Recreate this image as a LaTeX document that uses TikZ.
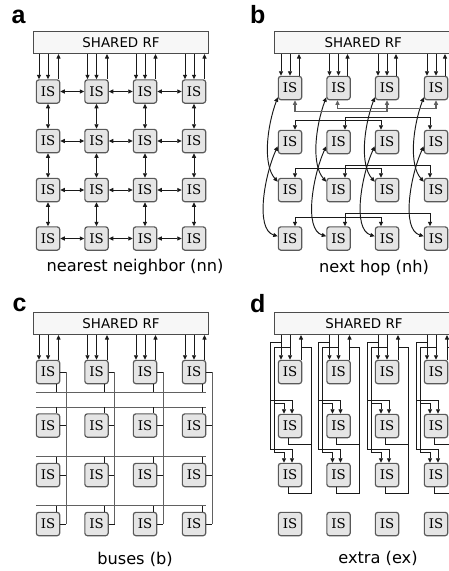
\documentclass[tikz,border=0pt]{standalone}
\usepackage{fontspec}
\setmainfont{DejaVu Sans}
\newfontfamily\isfont{DejaVu Serif}
\newfontfamily\labfont{Liberation Sans}
\usetikzlibrary{arrows.meta}
\tikzset{>={Triangle[length=4.5pt,width=4pt]}}
\tikzset{
  isbox/.style={draw=black!65,line width=1.2pt,fill=black!10,rounded corners=2.5pt,
    minimum size=23.3pt,inner sep=0pt,font=\isfont\fontsize{13.3}{14}\selectfont},
  rfbox/.style={draw=black!70,line width=1.1pt,fill=black!3,minimum height=22pt,
    inner sep=0pt,font=\fontsize{13.4}{14}\selectfont},
  wire/.style={black!90,line width=0.95pt},
  busline/.style={black!62,line width=1.3pt},
  panel/.style={anchor=base west,inner sep=0pt,font=\labfont\bfseries\fontsize{25}{25}\selectfont},
  captext/.style={anchor=base,inner sep=0pt,font=\fontsize{16.2}{18}\selectfont}
}

\begin{document}
\begin{tikzpicture}[x=1pt,y=-1pt]
\useasboundingbox (0,0) rectangle (449,571);
\clip (0,0) rectangle (449,571);

% (a) nearest neighbor
\node[panel] at (11.5,23.3) {a};
\node[rfbox,minimum width=175pt] (arf) at (121,42.5) {SHARED RF};
\foreach \r/\y in {1/91.5,2/141,3/190,4/238.5}
  \foreach \c/\x in {1/48,2/96.5,3/145,4/194}
    \node[isbox] (a\r\c) at (\x,\y) {IS};
\foreach \c in {1,...,4}{
  \draw[wire,->] ([xshift=-9pt]a1\c.north |- arf.south) -- ([xshift=-9pt]a1\c.north);
  \draw[wire,->] (a1\c.north |- arf.south) -- (a1\c.north);
  \draw[wire,<-] ([xshift=10.5pt]a1\c.north |- arf.south) -- ([xshift=10.5pt]a1\c.north);
  \foreach \r/\n in {1/2,2/3,3/4}{
    \draw[wire,<->] (a\r\c) -- (a\n\c);
    \draw[wire,<->] (a\c\r) -- (a\c\n);
  }
}
\node[captext] at (135,271.5) {nearest neighbor (nn)};

% (b) next hop
\node[panel] at (250,23.3) {b};
\node[rfbox,minimum width=178.4pt] (brf) at (363.25,42.5) {SHARED RF};
\foreach \r/\y in {1/88,2/142,3/190,4/238.5}
  \foreach \c/\x in {1/290,2/338.5,3/387,4/436}
    \node[isbox] (b\r\c) at (\x,\y) {IS};
\foreach \c in {1,...,4}{
  \draw[wire,->] ([xshift=-9pt]b1\c.north |- brf.south) -- ([xshift=-9pt]b1\c.north);
  \draw[wire,->] (b1\c.north |- brf.south) -- (b1\c.north);
  \draw[wire,<-] ([xshift=9pt]b1\c.north |- brf.south) -- ([xshift=9pt]b1\c.north);
  % two rows down, same column
  \draw[wire,<->] ([yshift=3pt]b1\c.south west) .. controls +(-11,30) and +(-15,-17) .. ([yshift=-4pt]b3\c.north west);
  \draw[wire,<->] ([yshift=8pt]b2\c.south west) .. controls +(-13,28) and +(-23,-7) .. ([yshift=-10pt]b4\c.north west);
}
\draw[busline,<->] ([xshift=5pt]b11.south) -- ++(0,11) -| (b13.south);
\draw[busline,<->] ([xshift=-1pt]b12.south) -- ++(0,8) -| (b14.south);
\foreach \r in {2,3,4}{
  \draw[wire,<->] ([xshift=5pt]b\r1.north) -- ++(0,-9) -| ([xshift=-6pt]b\r3.north);
  \draw[wire,<->] ([xshift=6.5pt]b\r2.north) -- ++(0,-12.5) -| ([xshift=-6pt]b\r4.north);
}
\node[captext] at (374,272) {next hop (nh)};

% (c) buses
\node[panel] at (12.5,311.7) {c};
\node[rfbox,minimum width=175pt] (crf) at (121,323.5) {SHARED RF};
\foreach \r/\y in {1/372,2/425.5,3/475,4/524}
  \foreach \c/\x in {1/48,2/96.5,3/145,4/194}
    \node[isbox] (c\r\c) at (\x,\y) {IS};
\draw[busline] ([yshift=-8pt]c11.south west) -- ([yshift=-8pt]c14.south east);
\foreach \r in {2,3,4}
  \draw[busline] ([yshift=6pt]c\r1.north west) -- ([yshift=6pt]c\r4.north east);
\foreach \c in {1,...,4}{
  \draw[wire,->] ([xshift=-9pt]c1\c.north |- crf.south) -- ([xshift=-9pt]c1\c.north);
  \draw[wire,->] (c1\c.north |- crf.south) -- (c1\c.north);
  \draw[wire,<-] ([xshift=10.5pt]c1\c.north |- crf.south) -- ([xshift=10.5pt]c1\c.north);
  \draw[wire] ([xshift=8pt]c1\c.south) -- ++(0,8);
  \foreach \r in {2,3,4}
    \draw[wire] ([xshift=8pt]c\r\c.north) -- ++(0,-6);
  \foreach \r in {1,...,4}
    \draw[wire] (c\r\c.east) -- ++(6,0);
  \draw[busline] ([xshift=6pt]c1\c.east) -- ([xshift=6pt]c4\c.east);
}
\node[captext] at (135,564) {buses (b)};

% (d) extra
\node[panel] at (250,312.3) {d};
\node[rfbox,minimum width=178.4pt] (drf) at (364,323.5) {SHARED RF};
\foreach \r/\y in {1/372,2/426,3/475,4/524}
  \foreach \c/\x in {1/290,2/338.5,3/387,4/436}
    \node[isbox] (d\r\c) at (\x,\y) {IS};
\foreach \c in {1,...,4}{
  \draw[wire,->] ([xshift=-9pt]d1\c.north |- drf.south) -- ([xshift=-9pt]d1\c.north);
  \draw[wire,->] (d1\c.north |- drf.south) -- (d1\c.north);
  \draw[wire,<-] ([xshift=11pt]d1\c.north |- drf.south) -- ([xshift=11pt]d1\c.north);
  % extra feeds down the left
  \draw[wire,->] ([xshift=-9pt]d1\c.north |- drf.south) ++(0,7) -| ([xshift=-20pt,yshift=13pt]d2\c.north) -- ([xshift=2pt,yshift=13pt]d2\c.north) -- ([xshift=2pt]d2\c.north);
  \draw[wire,->] ([xshift=-20pt,yshift=13pt]d2\c.north) |- ([xshift=2pt,yshift=13pt]d3\c.north) -- ([xshift=2pt]d3\c.north);
  \draw[wire,->] (d1\c.north |- drf.south) ++(0,12) -| ([xshift=-16pt,yshift=10pt]d2\c.north) -- ([xshift=-6pt,yshift=10pt]d2\c.north) -- ([xshift=-6pt]d2\c.north);
  \draw[wire,->] ([xshift=-16pt,yshift=10pt]d2\c.north) |- ([xshift=-6pt,yshift=10pt]d3\c.north) -- ([xshift=-6pt]d3\c.north);
  % results back up the right
  \draw[wire] ([xshift=-2pt]d3\c.south) -- ++(0,6) -| ([xshift=21pt,yshift=12pt]d1\c.north) -- ++(-10,0);
  \draw[wire] ([xshift=-2pt]d2\c.south) -- ++(0,6) -- ++(23,0);
}
\node[captext] at (378,563.5) {extra (ex)};
\end{tikzpicture}
\end{document}
